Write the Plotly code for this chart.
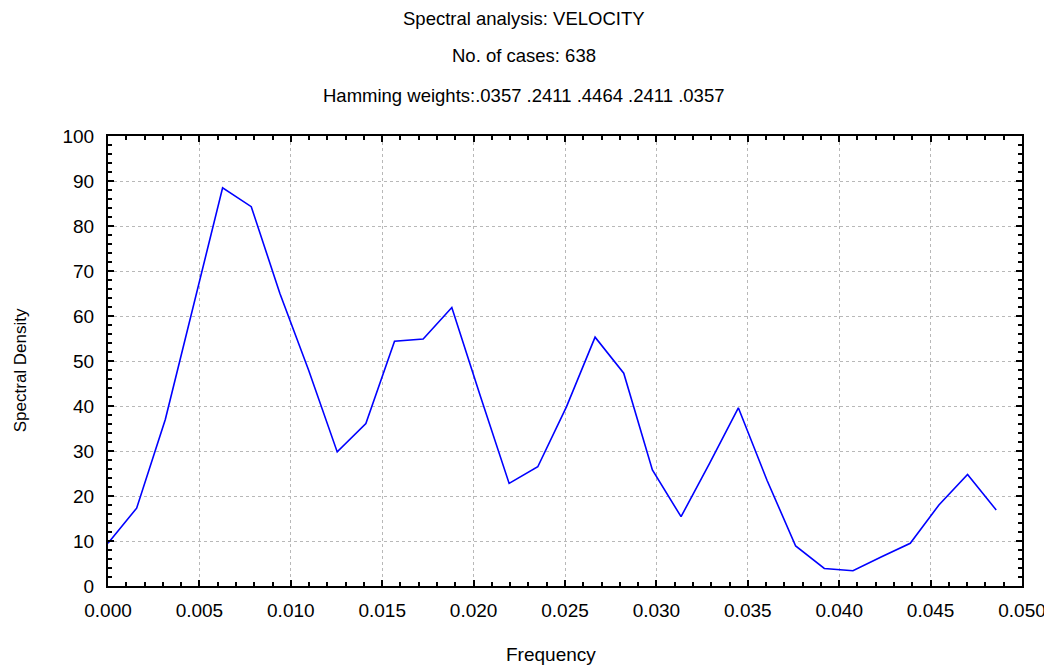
import plotly.graph_objects as go

n_cases = 638
k_index = list(range(32))
frequency = [k / n_cases for k in k_index]
spectral_density = [9.5, 17.3, 37.0, 63.0, 88.5, 84.3, 65.0, 48.0, 29.8, 36.1,
                    54.4, 54.9, 61.9, 42.1, 22.8, 26.5, 39.8, 55.3, 47.3, 25.8,
                    15.4, 27.3, 39.6, 23.5, 8.9, 3.9, 3.4, 6.5, 9.5, 18.0,
                    24.8, 16.9]

title_lines = ["Spectral analysis: VELOCITY",
               "No. of cases: 638",
               "Hamming weights:.0357 .2411 .4464 .2411 .0357"]
x_title = "Frequency"
y_title = "Spectral Density"

FONT = "Liberation Sans, Arial, sans-serif"

fig = go.Figure()
fig.add_trace(go.Scatter(x=frequency, y=spectral_density, mode="lines",
                         line=dict(color="#0000ff", width=1.6), showlegend=False))

axis_common = dict(
    showline=True, linecolor="black", linewidth=2, mirror="ticks",
    ticks="inside", ticklen=6, tickcolor="black", tickwidth=1.5,
    showgrid=True, gridcolor="#b8b8b8", griddash="dot", gridwidth=1,
    zeroline=False, tickfont=dict(family=FONT, size=19, color="black"),
)

fig.update_xaxes(range=[0, 0.05], dtick=0.005, tick0=0, tickformat=".3f",
                 ticklabelstandoff=6,
                 minor=dict(dtick=0.001, ticks="inside", ticklen=4, tickcolor="black"),
                 **axis_common)
fig.update_yaxes(range=[0, 100], dtick=10, tick0=0,
                 ticklabelstandoff=8,
                 minor=dict(dtick=2, ticks="inside", ticklen=4, tickcolor="black"),
                 **axis_common)

ann = []
for txt, yy in zip(title_lines, [1.262, 1.178, 1.091]):
    ann.append(dict(text=txt, x=0.455, y=yy, xref="paper", yref="paper",
                    xanchor="center", yanchor="middle", showarrow=False,
                    font=dict(family=FONT, size=18.5, color="black")))
ann.append(dict(text=x_title, x=0.485, y=-0.153, xref="paper", yref="paper",
                xanchor="center", yanchor="middle", showarrow=False,
                font=dict(family=FONT, size=19, color="black")))
ann.append(dict(text=y_title, x=-0.096, y=0.48, xref="paper", yref="paper",
                xanchor="center", yanchor="middle", showarrow=False, textangle=-90,
                font=dict(family=FONT, size=17, color="black")))

fig.update_layout(
    width=1044, height=658,
    margin=dict(l=100, r=30, t=128, b=80, autoexpand=False),
    paper_bgcolor="white", plot_bgcolor="white",
    annotations=ann,
)

fig.write_html("out.html")
